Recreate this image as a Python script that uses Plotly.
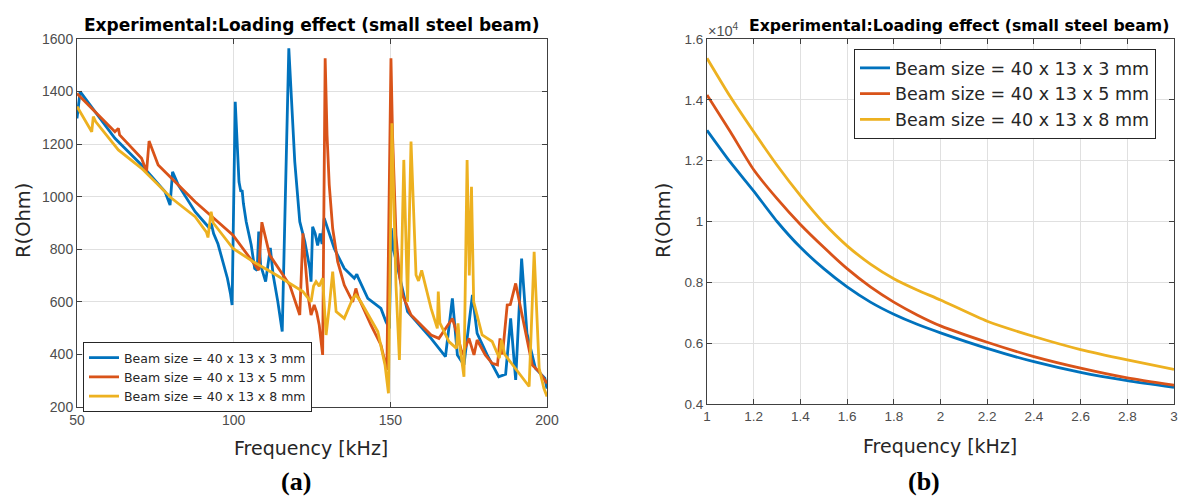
import plotly.graph_objects as go

# ---------------- (a) 50-200 kHz ----------------
freq_3mm = [50, 51, 62.1, 70.6, 78.1, 79.7, 80.5, 82.3, 87.7, 91.3, 92.3, 92.8, 93.6, 95.0,
            96.6, 98.0, 99.0, 99.5, 100.5, 100.9, 101.7, 102.3, 102.7, 103.1, 104.0, 105.6,
            106.7, 107.5, 108.0, 108.6, 110.2, 111.7, 112.6, 114.1, 115.5, 117.6, 118.4, 119.5,
            121.1, 122.7, 124.3, 124.7, 125.2, 126.0, 126.8, 127.6, 128.2, 128.9, 132.1, 135.3,
            138.5, 139.3, 139.8, 142.8, 147.0, 148.6, 149.7, 150.3, 151.0, 152.4, 155.5, 163.0,
            167.6, 169.8, 171.4, 173.5, 175.1, 176.2, 177.7, 180.9, 184.6, 186.8, 188.4, 190.0,
            191.9, 193.6, 196.3, 199.3, 200]
r_3mm = [1298, 1400, 1222, 1121, 1019, 968, 1095, 1045, 943, 892, 880, 900, 860, 820,
         753, 690, 630, 588, 1361, 1235, 1057, 1019, 1025, 975, 905, 816,
         727, 720, 867, 740, 677, 805, 702, 600, 487, 1565, 1361, 1133,
         905, 829, 727, 677, 886, 860, 815, 860, 820, 918, 803, 727,
         690, 705, 690, 613, 575, 525, 499, 880, 800, 727, 563, 461,
         392, 613, 398, 360, 525, 626, 480, 398, 315, 325, 537, 303,
         765, 480, 347, 310, 270]

freq_5mm = [50, 62.1, 63.2, 63.6, 70.6, 72.2, 73.0, 75.9, 81.3, 87.7, 99.8, 106.2, 108.0,
            109.0, 111.5, 117.9, 121.1, 122.1, 123.7, 124.7, 125.7, 126.5, 127.3, 128.4, 129.2,
            129.8, 130.5, 131.6, 133.2, 135.3, 138.0, 139.0, 139.7, 143.8, 147.0, 148.9, 150.2,
            150.7, 151.8, 152.9, 153.9, 156.6, 163.0, 165.5, 169.8, 171.4, 173.0, 175.1, 176.7,
            177.7, 180.3, 182.5, 184.2, 185.0, 185.8, 187.3, 188.3, 190.0, 192.5, 195.3, 197.5,
            200]
r_5mm = [1393, 1247, 1260, 1235, 1146, 1095, 1212, 1121, 1057, 981, 854, 753, 721,
         903, 778, 664, 550, 861, 626, 550, 588, 560, 512, 398, 1527,
         1235, 1045, 879, 753, 664, 600, 651, 620, 512, 436, 341, 1527,
         1235, 854, 702, 626, 550, 474, 461, 537, 474, 398, 461, 398,
         455, 398, 366, 360, 461, 400, 588, 590, 670, 525, 360, 334,
         290]

freq_8mm = [50, 54.7, 55.2, 56.0, 63.2, 70.6, 80.2, 87.7, 91.3, 91.8, 92.8, 93.5, 99.8, 106.2,
            113.6, 117.9, 122.1, 124.7, 125.5, 126.3, 127.3, 128.4, 129.5, 130.5, 131.6, 132.7,
            135.3, 138.0, 139.0, 140.6, 146.0, 148.3, 149.4, 150.5, 151.8, 152.9, 154.3, 155.5,
            156.6, 158.2, 159.0, 160.0, 163.0, 165.0, 165.3, 165.8, 168.7, 171.1, 171.6, 172.2,
            173.5, 174.5, 175.2, 175.9, 176.6, 179.3, 182.5, 184.8, 185.5, 186.5, 194.3, 195.9,
            197.5, 199.0, 200]
r_8mm = [1343, 1247, 1305, 1285, 1178, 1108, 994, 924, 865, 845, 943, 900, 803, 753,
         702, 670, 639, 600, 660, 677, 660, 690, 474, 580, 715, 563,
         537, 613, 626, 600, 487, 360, 252, 1279, 664, 379, 1140, 600,
         1210, 702, 680, 720, 575, 499, 639, 520, 449, 423, 518, 430,
         315, 1140, 700, 1038, 600, 474, 449, 386, 455, 400, 278, 790,
         347, 271, 240]

# ---------------- (b) 1-3 kHz (values in Ohm) ----------------
freq_b = [1.0, 1.1, 1.2, 1.3, 1.4, 1.5, 1.6, 1.7, 1.8, 1.9, 2.0, 2.2, 2.4, 2.6, 2.8, 3.0]
rb_3mm = [13000, 11950, 11000, 10000, 9150, 8450, 7850, 7350, 6950, 6620, 6340, 5830, 5390,
          5040, 4770, 4550]
rb_5mm = [14160, 12950, 11700, 10750, 9900, 9150, 8450, 7850, 7350, 6930, 6570, 6030, 5560,
          5180, 4860, 4620]
rb_8mm = [15370, 14100, 12950, 11850, 10850, 9950, 9200, 8600, 8120, 7750, 7420, 6720, 6220,
          5790, 5450, 5140]

series_names = ["Beam size = 40 x 13 x 3 mm", "Beam size = 40 x 13 x 5 mm",
                "Beam size = 40 x 13 x 8 mm"]
colors = ["#0072BD", "#D95319", "#EDB120"]

W, H = 1183, 499
FONT = "DejaVu Sans, sans-serif"
TICKFONT = "Liberation Sans, Arial, sans-serif"

fig = go.Figure()
for fx, ry, name, c in zip([freq_3mm, freq_5mm, freq_8mm], [r_3mm, r_5mm, r_8mm],
                           series_names, colors):
    fig.add_trace(go.Scatter(x=fx, y=ry, mode="lines", name=name,
                             line=dict(color=c, width=2.8), xaxis="x", yaxis="y",
                             legend="legend"))
for ry, name, c in zip([rb_3mm, rb_5mm, rb_8mm], series_names, colors):
    fig.add_trace(go.Scatter(x=freq_b, y=[v / 1e4 for v in ry], mode="lines", name=name,
                             line=dict(color=c, width=2.8, shape="spline", smoothing=0.6),
                             xaxis="x2", yaxis="y2", legend="legend2"))

axis_common = dict(showline=True, linecolor="#404040", linewidth=1, mirror="ticks",
                   ticks="inside", ticklen=5, tickcolor="#404040", showgrid=True,
                   gridcolor="#e0e0e0", zeroline=False, automargin=False)

fig.update_layout(
    width=W, height=H, margin=dict(l=0, r=0, t=0, b=0, autoexpand=False),
    paper_bgcolor="white", plot_bgcolor="white",
    font=dict(family=FONT, color="#262626"),
    xaxis=dict(domain=[77 / W, 547 / W], range=[50, 200], tickvals=[50, 100, 150, 200],
               tickfont=dict(size=14, color="#4d4d4d", family=TICKFONT), anchor="y",
               **axis_common),
    yaxis=dict(domain=[1 - 407 / H, 1 - 39 / H], range=[200, 1600],
               tickvals=[200, 400, 600, 800, 1000, 1200, 1400, 1600],
               tickfont=dict(size=14, color="#4d4d4d", family=TICKFONT), anchor="x",
               **axis_common),
    xaxis2=dict(domain=[707 / W, 1174 / W], range=[1, 3],
                tickvals=[1, 1.2, 1.4, 1.6, 1.8, 2, 2.2, 2.4, 2.6, 2.8, 3],
                ticktext=["1", "1.2", "1.4", "1.6", "1.8", "2", "2.2", "2.4", "2.6", "2.8", "3"],
                tickfont=dict(size=13.5, color="#4d4d4d", family=TICKFONT), anchor="y2",
                **axis_common),
    yaxis2=dict(domain=[1 - 404 / H, 1 - 39 / H], range=[0.4, 1.6],
                tickvals=[0.4, 0.6, 0.8, 1, 1.2, 1.4, 1.6],
                ticktext=["0.4", "0.6", "0.8", "1", "1.2", "1.4", "1.6"],
                tickfont=dict(size=13.5, color="#4d4d4d", family=TICKFONT), anchor="x2",
                **axis_common),
    legend=dict(x=83 / W, y=1 - 342 / H, xanchor="left", yanchor="top",
                font=dict(size=12.5, color="#262626", family=FONT), bgcolor="white",
                bordercolor="#262626", borderwidth=1, tracegroupgap=0),
    legend2=dict(x=854 / W, y=1 - 49 / H, xanchor="left", yanchor="top",
                 font=dict(size=17.5, color="#262626", family=FONT), bgcolor="white",
                 bordercolor="#262626", borderwidth=1, tracegroupgap=0),
)

def ann(text, xpx, ypx, size, color="#262626", bold=False, angle=0, family=FONT,
        xanchor="center"):
    fig.add_annotation(text=f"<b>{text}</b>" if bold else text, x=xpx / W, y=1 - ypx / H,
                       xref="paper", yref="paper", showarrow=False, xanchor=xanchor,
                       yanchor="middle", textangle=angle,
                       font=dict(size=size, color=color, family=family))

ann("Experimental:Loading effect (small steel beam)", 311.5, 25, 17, color="black", bold=True)
ann("Experimental:Loading effect (small steel beam)", 959, 25, 15.7, color="black", bold=True)
ann("Frequency [kHz]", 311, 448, 19)
ann("Frequency [kHz]", 939.5, 446, 19)
ann("R(Ohm)", 23, 221, 19.5, angle=-90)
ann("R(Ohm)", 663, 221, 19.5, angle=-90)
ann("×10<sup>4</sup>", 706, 30, 14.5, color="#4d4d4d", xanchor="left", family=TICKFONT)
ann("(a)", 296, 481, 26, color="black", bold=True, family="Liberation Serif, serif")
ann("(b)", 924, 481, 26, color="black", bold=True, family="Liberation Serif, serif")

fig.write_html("out.html", config={"displayModeBar": False},
               post_script="document.body.style.margin='0px';"
                           "document.body.style.overflow='hidden';")
